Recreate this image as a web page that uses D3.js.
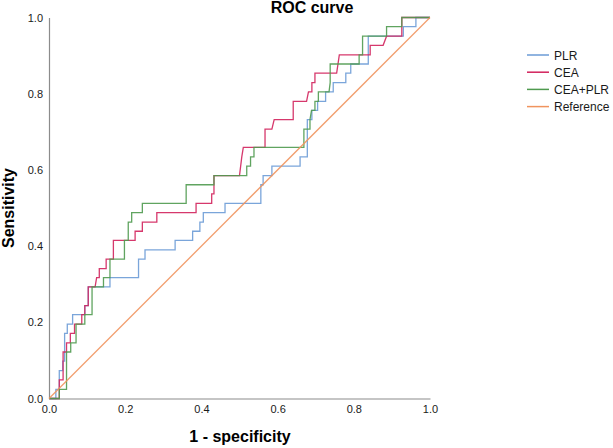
<!DOCTYPE html>
<html>
<head>
<meta charset="utf-8">
<script src="https://cdn.jsdelivr.net/npm/d3@7"></script>
<style>
  body { margin: 0; background: #fff; }
  svg { display: block; font-family: Arial, "Liberation Sans", sans-serif; }
</style>
</head>
<body>
<svg id="chart" width="613" height="448"></svg>
<script>
var width = 613;
var height = 448;

var xTicks = [0.0, 0.2, 0.4, 0.6, 0.8, 1.0];
var yTicks = [0.0, 0.2, 0.4, 0.6, 0.8, 1.0];

var seriesNames = ["PLR", "CEA", "CEA+PLR", "Reference"];
var seriesColors = ["#6b9bd6", "#d2225c", "#4f9a4f", "#f0945e"];

// ROC vertices: 1 - specificity and sensitivity
var plrFpr = [0, 0.018, 0.018, 0.027, 0.027, 0.036, 0.036, 0.041, 0.041, 0.048, 0.048, 0.062, 0.062, 0.082, 0.082, 0.094, 0.094, 0.103, 0.103, 0.16, 0.16, 0.235, 0.235, 0.252, 0.252, 0.331, 0.331, 0.377, 0.377, 0.396, 0.396, 0.405, 0.405, 0.462, 0.462, 0.556, 0.556, 0.562, 0.562, 0.585, 0.585, 0.659, 0.659, 0.678, 0.678, 0.69, 0.69, 0.705, 0.705, 0.726, 0.726, 0.746, 0.746, 0.779, 0.779, 0.792, 0.792, 0.838, 0.838, 0.93, 0.93, 0.963, 0.963, 1];
var plrTpr = [0, 0, 0.024, 0.024, 0.073, 0.073, 0.098, 0.098, 0.171, 0.171, 0.195, 0.195, 0.22, 0.22, 0.22, 0.22, 0.244, 0.244, 0.293, 0.293, 0.317, 0.317, 0.366, 0.366, 0.39, 0.39, 0.415, 0.415, 0.439, 0.439, 0.463, 0.463, 0.488, 0.488, 0.512, 0.512, 0.561, 0.561, 0.585, 0.585, 0.61, 0.61, 0.634, 0.634, 0.732, 0.732, 0.756, 0.756, 0.78, 0.78, 0.805, 0.805, 0.829, 0.829, 0.854, 0.854, 0.878, 0.878, 0.951, 0.951, 0.976, 0.976, 1, 1];

var ceaFpr = [0, 0.027, 0.027, 0.037, 0.037, 0.046, 0.046, 0.056, 0.056, 0.067, 0.067, 0.086, 0.086, 0.094, 0.094, 0.103, 0.103, 0.121, 0.125, 0.132, 0.132, 0.15, 0.15, 0.169, 0.169, 0.226, 0.226, 0.245, 0.245, 0.283, 0.283, 0.386, 0.386, 0.427, 0.427, 0.433, 0.433, 0.5, 0.506, 0.51, 0.51, 0.567, 0.567, 0.585, 0.591, 0.641, 0.641, 0.676, 0.681, 0.69, 0.69, 0.698, 0.698, 0.755, 0.762, 0.843, 0.843, 0.877, 0.886, 0.926, 0.926, 1];
var ceaTpr = [0, 0, 0.049, 0.049, 0.122, 0.122, 0.146, 0.146, 0.171, 0.171, 0.195, 0.195, 0.22, 0.22, 0.244, 0.244, 0.293, 0.293, 0.317, 0.317, 0.341, 0.341, 0.366, 0.366, 0.415, 0.415, 0.439, 0.439, 0.463, 0.463, 0.488, 0.488, 0.512, 0.512, 0.537, 0.537, 0.585, 0.585, 0.634, 0.659, 0.659, 0.659, 0.707, 0.707, 0.732, 0.732, 0.78, 0.78, 0.805, 0.805, 0.829, 0.829, 0.854, 0.854, 0.902, 0.902, 0.927, 0.927, 0.951, 0.951, 1, 1];

var comboFpr = [0, 0.027, 0.027, 0.046, 0.046, 0.057, 0.057, 0.071, 0.071, 0.094, 0.094, 0.113, 0.113, 0.143, 0.143, 0.16, 0.16, 0.198, 0.198, 0.208, 0.208, 0.217, 0.217, 0.245, 0.245, 0.36, 0.36, 0.433, 0.433, 0.519, 0.519, 0.529, 0.529, 0.538, 0.538, 0.669, 0.669, 0.685, 0.685, 0.689, 0.698, 0.698, 0.707, 0.707, 0.735, 0.738, 0.738, 0.814, 0.814, 0.823, 0.823, 0.886, 0.886, 0.926, 0.926, 1];
var comboTpr = [0, 0, 0.024, 0.024, 0.122, 0.122, 0.146, 0.146, 0.195, 0.195, 0.22, 0.22, 0.293, 0.293, 0.317, 0.317, 0.366, 0.366, 0.415, 0.415, 0.463, 0.463, 0.488, 0.488, 0.512, 0.512, 0.561, 0.561, 0.585, 0.585, 0.61, 0.61, 0.634, 0.634, 0.659, 0.659, 0.707, 0.707, 0.732, 0.756, 0.756, 0.78, 0.78, 0.805, 0.805, 0.829, 0.878, 0.878, 0.902, 0.902, 0.951, 0.951, 0.976, 0.976, 1, 1];

var refFpr = [0, 1];
var refTpr = [0, 1];

var svg = d3.select("#chart");

var x = d3.scaleLinear().domain([0, 1]).range([49, 430]);
var y = d3.scaleLinear().domain([0, 1]).range([398.5, 17.5]);

// axes: plain grey lines, no tick marks
var xAxis = svg.append("g")
  .attr("transform", "translate(0," + y(0) + ")")
  .call(d3.axisBottom(x).tickValues(xTicks).tickSize(0).tickPadding(7).tickFormat(d3.format(".1f")));
var yAxis = svg.append("g")
  .attr("transform", "translate(" + x(0) + ",0)")
  .call(d3.axisLeft(y).tickValues(yTicks).tickSize(0).tickPadding(6).tickFormat(d3.format(".1f")));

[xAxis, yAxis].forEach(function(a) {
  a.select(".domain").attr("stroke", "#8c8c8c").attr("stroke-width", 1.2);
  a.selectAll("text")
    .attr("fill", "#1a1a1a")
    .style("font-size", "11px")
    .style("font-family", "Arial, 'Liberation Sans', sans-serif");
});

function pairs(xs, ys) {
  return xs.map(function(v, i) {
    return [v, ys[i]];
  });
}

var curves = [
  pairs(plrFpr, plrTpr),
  pairs(ceaFpr, ceaTpr),
  pairs(comboFpr, comboTpr),
  pairs(refFpr, refTpr)
];

var line = d3.line()
  .x(function(d) { return x(d[0]); })
  .y(function(d) { return y(d[1]); });

svg.append("g")
  .selectAll("path")
  .data(curves)
  .enter()
  .append("path")
  .attr("d", line)
  .attr("fill", "none")
  .attr("stroke", function(d, i) {
    return seriesColors[i];
  })
  .attr("stroke-width", 1.3)
  .attr("stroke-opacity", 0.9);

// title and axis titles
svg.append("text")
  .attr("x", 312)
  .attr("y", 12.5)
  .attr("text-anchor", "middle")
  .style("font-weight", "bold")
  .style("font-size", "16px")
  .text("ROC curve");

svg.append("text")
  .attr("x", 240)
  .attr("y", 442)
  .attr("text-anchor", "middle")
  .style("font-weight", "bold")
  .style("font-size", "16px")
  .text("1 - specificity");

svg.append("text")
  .attr("transform", "translate(14,208) rotate(-90)")
  .attr("text-anchor", "middle")
  .style("font-weight", "bold")
  .style("font-size", "16px")
  .text("Sensitivity");

// legend
var legend = svg.append("g")
  .selectAll("g")
  .data(seriesNames)
  .enter()
  .append("g")
  .attr("transform", function(d, i) {
    return "translate(527," + (55 + i * 17.2) + ")";
  });

legend.append("line")
  .attr("x1", 0)
  .attr("x2", 22)
  .attr("stroke", function(d, i) {
    return seriesColors[i];
  })
  .attr("stroke-width", 1.5);

legend.append("text")
  .attr("x", 27)
  .attr("y", 4.5)
  .attr("fill", "#1a1a1a")
  .style("font-size", "12px")
  .text(function(d) {
    return d;
  });
</script>
</body>
</html>
